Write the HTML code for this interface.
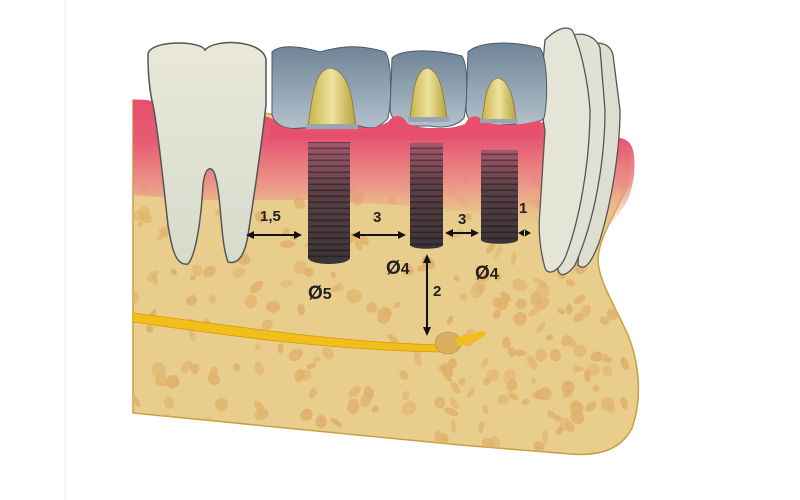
<!DOCTYPE html>
<html><head><meta charset="utf-8"><style>
html,body{margin:0;padding:0;background:#fff;width:800px;height:500px;overflow:hidden}
svg{display:block}
text{font-family:"Liberation Sans",sans-serif;font-weight:bold;fill:#222}
</style></head><body>
<svg width="800" height="500" viewBox="0 0 800 500" xmlns="http://www.w3.org/2000/svg">
<defs>
<linearGradient id="gum" x1="0" y1="0" x2="0" y2="1">
<stop offset="0" stop-color="#e8506e"/><stop offset="0.3" stop-color="#e65a74"/><stop offset="0.6" stop-color="#eb8a86" stop-opacity="0.85"/><stop offset="1" stop-color="#e8cc8a" stop-opacity="0"/>
</linearGradient>
<linearGradient id="crown" x1="0" y1="0" x2="0" y2="1">
<stop offset="0" stop-color="#6f8598"/><stop offset="1" stop-color="#b3c1cb"/>
</linearGradient>
<linearGradient id="gold" x1="0" y1="0" x2="1" y2="0">
<stop offset="0" stop-color="#c9b445"/><stop offset="0.5" stop-color="#ede2a0"/><stop offset="1" stop-color="#b8a23a"/>
</linearGradient>
<linearGradient id="impl" x1="0" y1="0" x2="0" y2="1">
<stop offset="0" stop-color="#a25a6e"/><stop offset="0.4" stop-color="#5c4047"/><stop offset="1" stop-color="#3a3436"/>
</linearGradient>
<linearGradient id="tooth" x1="0" y1="0" x2="0" y2="1">
<stop offset="0" stop-color="#e9e8d9"/><stop offset="1" stop-color="#d6dbcc"/>
</linearGradient>
<pattern id="thread" width="4" height="6" patternUnits="userSpaceOnUse">
<rect width="4" height="6" fill="none"/><rect y="3.5" width="4" height="1.6" fill="#000" opacity="0.35"/>
</pattern>
<clipPath id="boneclip"><path d="M133,100 L628,150 L628,185 C615,215 600,235 598,258 C598,280 612,300 628,335 C640,365 642,400 632,428 C620,452 595,456 570,454 L460,445 L133,413 Z"/></clipPath>
</defs>
<line x1="65" y1="0" x2="65" y2="500" stroke="#eee" stroke-width="1"/>
<path d="M133,100 L628,150 L628,185 C615,215 600,235 598,258 C598,280 612,300 628,335 C640,365 642,400 632,428 C620,452 595,456 570,454 L460,445 L133,413 Z" fill="#e9cd8c" stroke="#c9a040" stroke-width="1.5"/>
<g clip-path="url(#boneclip)" fill="#e0b26c" id="pores"></g>
<!-- gum -->
<path d="M133,100 C150,98 160,104 175,106 L255,120 C262,112 270,118 275,120 L390,128 C395,118 402,118 410,128 L470,128 C475,118 480,118 485,126 L545,122 C555,110 565,120 580,130 L620,138 C632,140 636,150 634,175 C632,190 628,200 625,205 L600,240 L500,215 L400,205 L300,200 L200,200 L133,195 Z" fill="url(#gum)"/>
<!-- left molar -->
<path d="M148,55 C148,40 200,40 205,50 C215,38 264,40 266,60 L266,105 C262,140 255,190 248,235 C245,255 238,265 228,262 C220,240 222,200 215,175 C212,165 205,166 203,185 C201,220 196,255 188,264 C176,266 172,250 168,225 C163,180 158,130 153,105 C148,85 148,65 148,55 Z" fill="url(#tooth)" stroke="#555" stroke-width="1.5"/>
<!-- right front teeth -->
<path d="M580,50 C590,40 610,40 613,55 L620,110 C620,150 612,200 600,240 C592,262 585,272 578,265 L585,130 Z" fill="#dcdfcf" stroke="#555" stroke-width="1.3"/>
<path d="M565,40 C575,30 595,33 600,48 L605,110 C605,160 595,220 575,265 C568,275 560,278 558,270 L565,130 Z" fill="#dfe1d2" stroke="#555" stroke-width="1.3"/>
<path d="M545,40 C555,30 565,25 572,30 C580,45 588,80 590,110 C590,160 580,220 565,258 C558,272 548,276 545,268 C540,250 538,230 540,210 L545,130 C540,110 542,70 545,40 Z" fill="#e4e5d6" stroke="#555" stroke-width="1.3"/>
<!-- crowns -->
<path d="M272,52 C280,44 300,46 320,52 C340,46 360,44 385,52 C392,60 392,100 388,118 C380,128 372,130 360,126 L300,128 C285,130 275,125 272,115 Z" fill="url(#crown)" stroke="#4a5a68" stroke-width="1"/>
<path d="M392,58 C400,50 430,48 462,56 C468,65 468,100 464,118 C455,128 440,128 430,126 L410,126 C398,128 392,120 390,110 Z" fill="url(#crown)" stroke="#4a5a68" stroke-width="1"/>
<path d="M468,52 C478,42 510,40 540,48 C548,60 548,100 544,118 C535,126 525,128 515,124 L485,126 C472,126 466,118 466,108 Z" fill="url(#crown)" stroke="#4a5a68" stroke-width="1"/>
<path d="M270,122 C285,128 300,132 330,132 C355,132 372,130 388,122 C395,113 402,114 408,124 C425,130 450,130 465,124 C470,114 478,114 484,122 C500,126 520,126 540,120 L540,140 L270,140 Z" fill="#e6506c"/>
<!-- abutments -->
<path d="M308,126 L312,100 C315,85 318,70 330,68 C345,70 350,90 352,100 L356,126 Z" fill="url(#gold)" stroke="#8a7a30" stroke-width="0.8"/>
<rect x="306" y="124" width="52" height="5" fill="#9aa6ae"/>
<path d="M410,118 L413,95 C415,80 420,68 428,68 C440,72 442,90 444,100 L447,118 Z" fill="url(#gold)" stroke="#8a7a30" stroke-width="0.8"/>
<rect x="408" y="117" width="41" height="5" fill="#9aa6ae"/>
<path d="M482,120 L485,100 C487,88 492,78 498,78 C508,80 512,95 514,105 L516,120 Z" fill="url(#gold)" stroke="#8a7a30" stroke-width="0.8"/>
<rect x="480" y="119" width="38" height="4" fill="#9aa6ae"/>
<!-- implants -->
<path d="M308,142 L350,142 L350,258 C348,266 310,266 308,258 Z" fill="url(#impl)"/>
<rect x="308" y="142" width="42" height="118" fill="url(#thread)"/>
<path d="M410,143 L443,143 L443,245 C441,250 412,250 410,245 Z" fill="url(#impl)"/>
<rect x="410" y="143" width="33" height="103" fill="url(#thread)"/>
<path d="M481,150 L518,150 L518,240 C516,245 483,245 481,240 Z" fill="url(#impl)"/>
<rect x="481" y="150" width="37" height="92" fill="url(#thread)"/>
<!-- nerve -->
<path d="M133,313 C230,325 330,342 440,345 L440,352 C330,350 230,336 133,322 Z" fill="#f2be1a" stroke="#d89a00" stroke-width="0.8"/>
<ellipse cx="448" cy="343" rx="13" ry="11" fill="#d8b060" stroke="#b08a40" stroke-width="0.6"/>
<path d="M455,338 C470,335 480,330 486,332 C486,338 472,344 458,346 Z" fill="#f2be1a"/>
<!-- arrows -->
<g stroke="#111" stroke-width="2" fill="#111">
<line x1="252" y1="235" x2="296" y2="235"/>
<path d="M246,235 l8,-4 v8z M302,235 l-8,-4 v8z" stroke="none"/>
<line x1="358" y1="235" x2="400" y2="235"/>
<path d="M352,235 l8,-4 v8z M406,235 l-8,-4 v8z" stroke="none"/>
<line x1="451" y1="233" x2="473" y2="233"/>
<path d="M445,233 l8,-4 v8z M479,233 l-8,-4 v8z" stroke="none"/>
<path d="M518,233 l7,-4 v8z M531,233 l-7,-4 v8z" stroke="none"/>
<line x1="427" y1="262" x2="427" y2="328"/>
<path d="M427,254 l-4,9 h8z M427,336 l-4,-9 h8z" stroke="none"/>
</g>
<text x="260" y="221" font-size="15">1,5</text>
<text x="373" y="222" font-size="15">3</text>
<text x="458" y="224" font-size="15">3</text>
<text x="519" y="213" font-size="15">1</text>
<text x="433" y="296" font-size="15">2</text>
<text x="308" y="299" font-size="19" font-weight="normal">Ø<tspan font-weight="bold" font-size="16">5</tspan></text>
<text x="386" y="274" font-size="19" font-weight="normal">Ø<tspan font-weight="bold" font-size="16">4</tspan></text>
<text x="475" y="279" font-size="19" font-weight="normal">Ø<tspan font-weight="bold" font-size="16">4</tspan></text>
</svg>
<script>
(function(){var g=document.getElementById('pores');var s=7;function r(){s=(s*16807)%2147483647;return s/2147483647;}
var out='';for(var i=0;i<300;i++){var x=135+r()*500,y=150+r()*300;var rx=2.5+r()*5.5,ry=2.5+r()*4.5;var op=0.55+r()*0.45;
out+='<ellipse cx="'+x.toFixed(1)+'" cy="'+y.toFixed(1)+'" rx="'+rx.toFixed(1)+'" ry="'+ry.toFixed(1)+'" opacity="'+op.toFixed(2)+'" transform="rotate('+(r()*180).toFixed(0)+' '+x.toFixed(1)+' '+y.toFixed(1)+')"/>';}
g.innerHTML=out;})();
</script>
</body></html>
